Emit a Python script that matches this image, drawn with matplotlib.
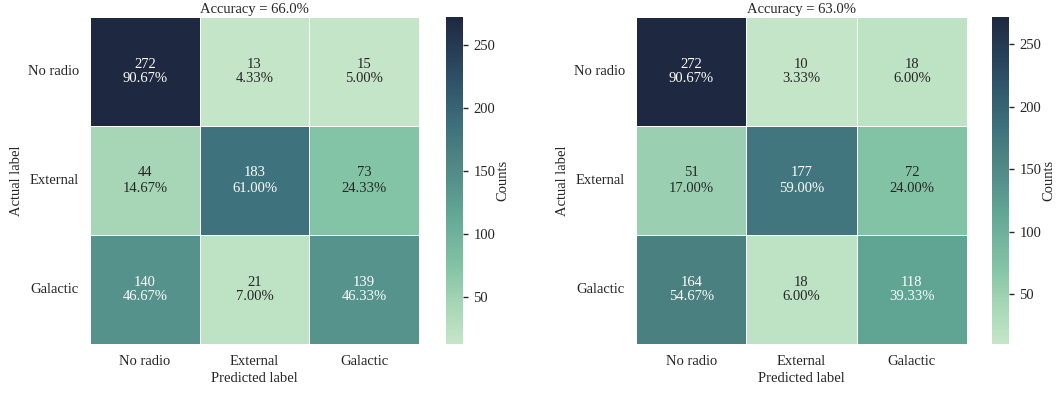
import numpy as np
import matplotlib
matplotlib.use("Agg")
import matplotlib.pyplot as plt
from matplotlib.colors import LinearSegmentedColormap
import seaborn as sns

classes = ["No radio", "External", "Galactic"]
counts_a = [[272, 13, 15],
            [44, 183, 73],
            [140, 21, 139]]
counts_b = [[272, 10, 18],
            [51, 177, 72],
            [164, 18, 118]]

sns.set_theme(style="ticks")
plt.rcParams["font.family"] = ["Liberation Serif", "DejaVu Serif"]
plt.rcParams["font.size"] = 10.5

# pale green -> teal -> deep navy
cmap = LinearSegmentedColormap.from_list("greennavy", [
    (0.00, "#c5e5c8"),
    (0.12, "#a5d6b6"),
    (0.23, "#84c4a6"),
    (0.41, "#60a494"),
    (0.49, "#56928c"),
    (0.59, "#4a8080"),
    (0.66, "#3e727d"),
    (0.82, "#2d4f65"),
    (1.00, "#1e2840"),
])

W, H = 1058, 394
fig = plt.figure(figsize=(W / 100, H / 100), dpi=100)


def px(x0, y0, x1, y1):
    return [x0 / W, 1 - y1 / H, (x1 - x0) / W, (y1 - y0) / H]


def draw(counts, ax_rect, cax_rect):
    cm = np.array(counts)
    pct = cm / cm.sum(axis=1, keepdims=True) * 100
    labels = np.array([[f"{c}\n{p:.2f}%" for c, p in zip(rc, rp)]
                       for rc, rp in zip(cm, pct)])
    acc = np.trace(cm) / cm.sum() * 100
    ax = fig.add_axes(ax_rect)
    cax = fig.add_axes(cax_rect)
    sns.heatmap(cm, annot=labels, fmt="", cmap=cmap, ax=ax, cbar_ax=cax,
                linewidths=0.6, linecolor="white",
                xticklabels=classes, yticklabels=classes,
                annot_kws={"fontsize": 10.5})
    ax.tick_params(length=0, labelsize=10.5, pad=8)
    ax.set_yticklabels(classes, rotation=0)
    ax.set_xlabel("Predicted label", fontsize=10.5, labelpad=3)
    ax.set_ylabel("Actual label", fontsize=10.5, labelpad=3)
    ax.set_title(f"Accuracy = {acc:.1f}%", fontsize=10.5, pad=3)
    cax.tick_params(labelsize=10.5, length=3.5, width=1, pad=4)
    cax.set_ylabel("Counts", fontsize=10.5, labelpad=1)
    cax.set_yticks([50, 100, 150, 200, 250])


draw(counts_a, px(90, 17, 419, 344), px(446, 17, 463, 344))
draw(counts_b, px(636, 17, 967, 344), px(992, 17, 1009, 344))

fig.savefig("out.png", dpi=100)
